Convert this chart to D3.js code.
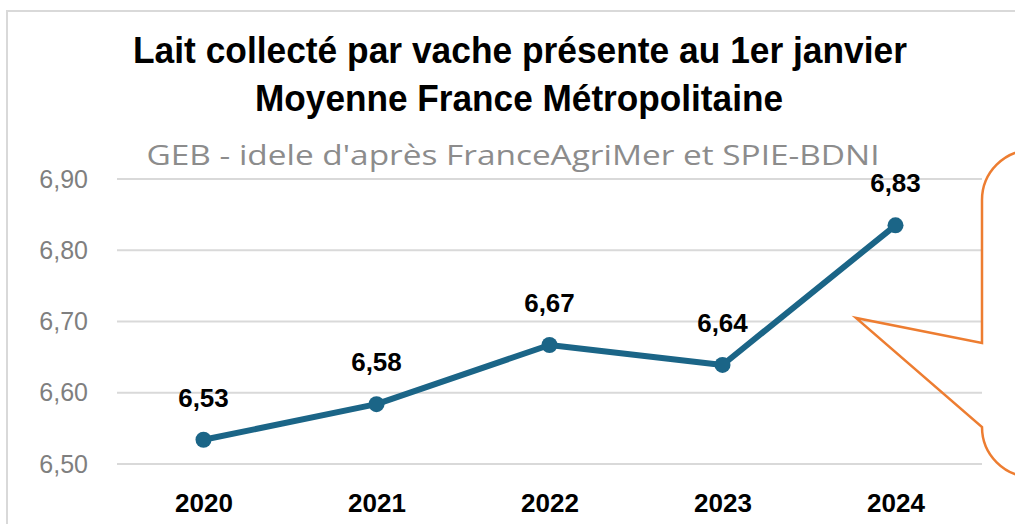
<!DOCTYPE html>
<meta charset="utf-8">
<style>
body { margin: 0; background: #fff; }
svg { display: block; }
.grid line { stroke: #d9d9d9; stroke-width: 2; }
.axis path, .axis line { display: none; }
.axis--y text { fill: #7f7f7f; font-family: "Liberation Sans", Arial, sans-serif; font-size: 25px; }
.axis--x text { fill: #000; font-family: "Liberation Sans", Arial, sans-serif; font-size: 26px; font-weight: bold; }
.label { font-family: "Liberation Sans", Arial, sans-serif; font-size: 26px; font-weight: bold; text-anchor: middle; }
.title { font-family: "Liberation Sans", sans-serif; font-weight: bold; font-size: 36px; text-anchor: middle; }
.subtitle { font-family: "Open Sans", sans-serif; font-size: 28px; fill: #8c8c8c; text-anchor: middle; }
</style>
<svg></svg>
<script src="https://cdn.jsdelivr.net/npm/d3@7"></script>
<script>
var years = ["2020", "2021", "2022", "2023", "2024"],
    values = [6.534, 6.584, 6.667, 6.639, 6.835],
    labels = ["6,53", "6,58", "6,67", "6,64", "6,83"],
    yTicks = [6.5, 6.6, 6.7, 6.8, 6.9];

var width = 1015, height = 524,
    margin = {top: 179, right: 33, bottom: 60, left: 117};

var svg = d3.select("svg").attr("width", width).attr("height", height);

// chart frame
svg.append("rect")
    .attr("x", 7).attr("y", 11)
    .attr("width", 1100).attr("height", 600)
    .attr("fill", "none").attr("stroke", "#d9d9d9").attr("stroke-width", 2);

var x = d3.scalePoint().domain(years).range([margin.left, width - margin.right]).padding(0.5),
    y = d3.scaleLinear().domain([6.5, 6.9]).range([464, 179]);

svg.append("text").attr("class", "title").attr("x", 520).attr("y", 63)
    .attr("textLength", 774).attr("lengthAdjust", "spacingAndGlyphs")
    .text("Lait collecté par vache présente au 1er janvier");
svg.append("text").attr("class", "title").attr("x", 519).attr("y", 111)
    .attr("textLength", 528).attr("lengthAdjust", "spacingAndGlyphs")
    .text("Moyenne France Métropolitaine");
svg.append("text").attr("class", "subtitle").attr("x", 513).attr("y", 165)
    .attr("textLength", 733).attr("lengthAdjust", "spacingAndGlyphs")
    .text("GEB - idele d'après FranceAgriMer et SPIE-BDNI");

svg.append("g")
    .attr("class", "grid")
  .selectAll("line")
  .data(yTicks)
  .enter().append("line")
    .attr("x1", margin.left).attr("x2", width - margin.right)
    .attr("y1", function(d) { return y(d); })
    .attr("y2", function(d) { return y(d); });

svg.append("g")
    .attr("class", "axis axis--y")
    .attr("transform", "translate(" + 88 + ",0)")
    .call(d3.axisLeft(y).tickValues(yTicks).tickSize(0).tickPadding(0)
      .tickFormat(function(d) { return d3.format(".2f")(d).replace(".", ","); }));

svg.append("g")
    .attr("class", "axis axis--x")
    .attr("transform", "translate(0,494)")
    .call(d3.axisBottom(x).tickSize(0).tickPadding(0));

var line = d3.line()
    .x(function(d, i) { return x(years[i]); })
    .y(function(d) { return y(d); });

svg.append("path")
    .datum(values)
    .attr("fill", "none")
    .attr("stroke", "#1b6587")
    .attr("stroke-width", 6)
    .attr("stroke-linejoin", "round")
    .attr("d", line);

svg.selectAll(".dot")
    .data(values)
  .enter().append("circle")
    .attr("class", "dot")
    .attr("cx", function(d, i) { return x(years[i]); })
    .attr("cy", function(d) { return y(d); })
    .attr("r", 8)
    .attr("fill", "#1b6587");

svg.selectAll(".label")
    .data(values)
  .enter().append("text")
    .attr("class", "label")
    .attr("x", function(d, i) { return x(years[i]); })
    .attr("y", function(d) { return y(d) - 33; })
    .text(function(d, i) { return labels[i]; });

// callout shape on the right
var r = 50;
var callout = "M1030,150 L" + (982 + r) + ",150 A" + r + "," + r + " 0 0 0 982," + (150 + r) +
    " L982,343 L856,318 L982,427 A" + r + "," + r + " 0 0 0 " + (982 + r) + ",477 L1030,477";
svg.append("path")
    .attr("d", callout)
    .attr("fill", "none")
    .attr("stroke", "#ed7d31")
    .attr("stroke-width", 2.5);
</script>
